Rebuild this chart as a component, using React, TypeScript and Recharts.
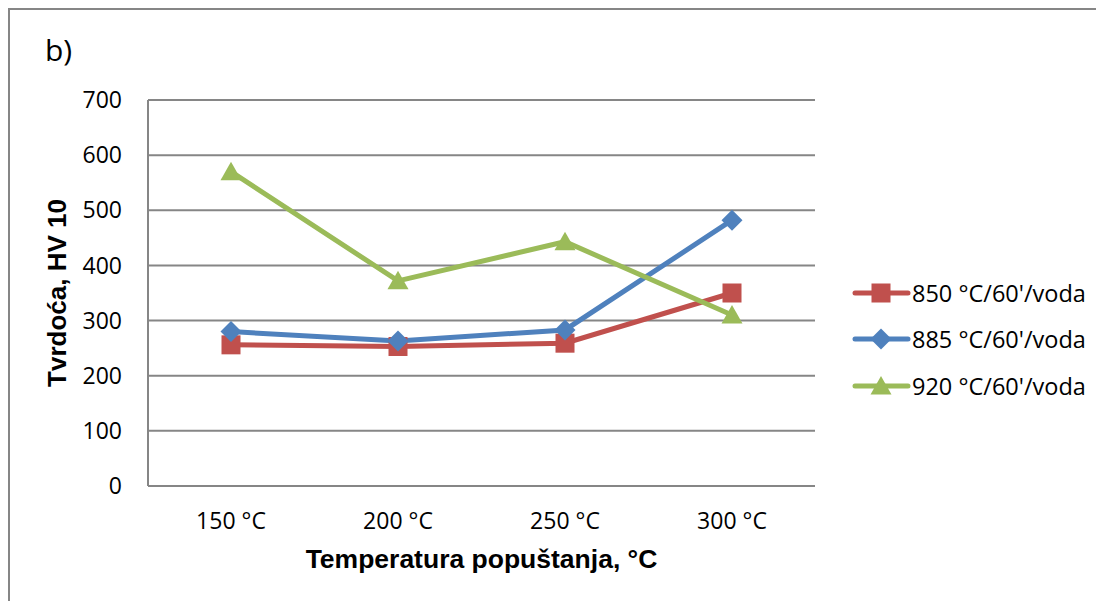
import React from 'react';
import { LineChart, Line, XAxis, YAxis, CartesianGrid, Legend } from 'recharts';

const categories = ['150 °C', '200 °C', '250 °C', '300 °C'];
const series850 = [256, 253, 259, 350];
const series885 = [280, 263, 283, 482];
const series920 = [570, 372, 443, 310];
const yTicks = [0, 100, 200, 300, 400, 500, 600, 700];

const RED = '#C0504D';
const BLUE = '#4F81BD';
const GREEN = '#9BBB59';
const GRAY = '#868686';
const tickFont = '"Open Sans", sans-serif';
const titleFont = '"Liberation Sans", Arial, sans-serif';

const data = categories.map((name, i) => ({
  name,
  s850: series850[i],
  s885: series885[i],
  s920: series920[i],
}));

const legendItems = [
  { key: 's850', label: "850 °C/60'/voda", color: RED, shape: 'square' },
  { key: 's885', label: "885 °C/60'/voda", color: BLUE, shape: 'diamond' },
  { key: 's920', label: "920 °C/60'/voda", color: GREEN, shape: 'triangle' },
];

const Marker = ({ shape, cx, cy, color }: { shape: string; cx: number; cy: number; color: string }) => {
  if (shape === 'square') {
    return <rect x={cx - 9.5} y={cy - 9.5} width={19} height={19} fill={color} />;
  }
  if (shape === 'diamond') {
    return <polygon points={`${cx},${cy - 10.5} ${cx + 10.5},${cy} ${cx},${cy + 10.5} ${cx - 10.5},${cy}`} fill={color} />;
  }
  return <polygon points={`${cx},${cy - 10} ${cx + 10.5},${cy + 8.5} ${cx - 10.5},${cy + 8.5}`} fill={color} />;
};

const dotFor = (shape: string, color: string) => (props: any) => {
  const { cx, cy, index } = props;
  if (cx == null || cy == null) return <g key={index} />;
  return <Marker key={index} shape={shape} cx={cx} cy={cy} color={color} />;
};

const renderLegend = () => (
  <svg width={254} height={140} style={{ display: 'block' }}>
    {legendItems.map((item, i) => {
      const y = [23, 69, 116][i];
      return (
        <g key={item.key}>
          <line x1={5} x2={58} y1={y} y2={y} stroke={item.color} strokeWidth={5} strokeLinecap="round" />
          <Marker shape={item.shape} cx={31} cy={y} color={item.color} />
          <text x={62} y={y + 8.5} fontFamily={tickFont} fontSize={23.5} fill="#000">
            {item.label}
          </text>
        </g>
      );
    })}
  </svg>
);

// the page keeps its 8px body margin, so the chart sits at (8, 8)
export default function App() {
  return (
    <div style={{ width: 1096, height: 593, overflow: 'hidden' }}>
      <LineChart
        width={1096}
        height={593}
        data={data}
        margin={{ top: 92, right: 35, left: 12, bottom: 25 }}
      >
        <path d="M1,593 V1 H1096" fill="none" stroke={GRAY} strokeWidth={2} />
        <text x={37} y={53} fontFamily={tickFont} fontSize={30} fill="#000">b)</text>
        <CartesianGrid vertical={false} stroke={GRAY} strokeWidth={2} />
        <XAxis
          dataKey="name"
          padding={{ left: 83, right: 83 }}
          axisLine={{ stroke: GRAY, strokeWidth: 2 }}
          tickLine={false}
          tickSize={0}
          tickMargin={27}
          height={90}
          tick={{ fill: '#000', fontSize: 23, fontFamily: tickFont }}
          label={{
            value: 'Temperatura popuštanja, °C',
            position: 'insideBottom',
            offset: 8,
            style: { fontFamily: titleFont, fontWeight: 'bold', fontSize: 26.5, fill: '#000' },
          }}
        />
        <YAxis
          domain={[0, 700]}
          ticks={yTicks}
          width={128}
          axisLine={{ stroke: GRAY, strokeWidth: 2 }}
          tickLine={false}
          tickSize={0}
          tickMargin={26}
          tick={{ fill: '#000', fontSize: 23, fontFamily: tickFont }}
          label={{
            value: 'Tvrdoća, HV 10',
            angle: -90,
            position: 'insideLeft',
            offset: 37,
            style: { textAnchor: 'middle', fontFamily: titleFont, fontWeight: 'bold', fontSize: 26, fill: '#000' },
          }}
        />
        <Legend
          layout="vertical"
          align="right"
          verticalAlign="middle"
          content={renderLegend}
          wrapperStyle={{ left: 842, top: 262, right: 'auto', width: 254, height: 140 }}
        />
        <Line
          dataKey="s850"
          name="850 °C/60'/voda"
          stroke={RED}
          strokeWidth={5}
          dot={dotFor('square', RED)}
          activeDot={false}
          isAnimationActive={false}
        />
        <Line
          dataKey="s885"
          name="885 °C/60'/voda"
          stroke={BLUE}
          strokeWidth={5}
          dot={dotFor('diamond', BLUE)}
          activeDot={false}
          isAnimationActive={false}
        />
        <Line
          dataKey="s920"
          name="920 °C/60'/voda"
          stroke={GREEN}
          strokeWidth={5}
          dot={dotFor('triangle', GREEN)}
          activeDot={false}
          isAnimationActive={false}
        />
      </LineChart>
    </div>
  );
}
